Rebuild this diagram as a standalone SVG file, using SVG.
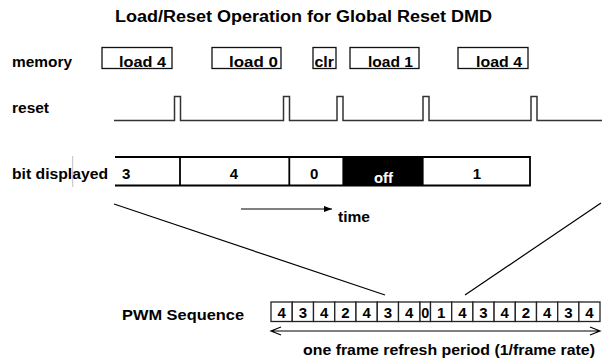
<svg xmlns="http://www.w3.org/2000/svg" width="602" height="360" viewBox="0 0 602 360">
<style>
text{font-family:"Liberation Sans",Arial,sans-serif;font-weight:bold;fill:#000;}
.t13{font-size:15px;}
.box{fill:#fff;stroke:#111;stroke-width:1.3;}
.wave{fill:none;stroke:#333;stroke-width:1.5;}
.bar{fill:none;stroke:#000;stroke-width:1.8;}
.ln{fill:none;stroke:#000;stroke-width:1.2;}
.pbox{fill:#fff;stroke:#222;stroke-width:1.3;}
.mid{text-anchor:middle;}
</style>
<defs>
<marker id="tri" markerWidth="8" markerHeight="6" refX="8" refY="3" orient="auto" markerUnits="userSpaceOnUse">
<path d="M0,0 L8,3 L0,6 Z" fill="#000"/>
</marker>
</defs>
<rect width="602" height="360" fill="#fff"/>
<g id="title">
<text class="t13" x="115" y="22" style="font-size:16px" textLength="377" lengthAdjust="spacingAndGlyphs">Load/Reset Operation for Global Reset DMD</text>
</g>
<g id="memory-row">
<text class="t13" x="12" y="66.5" textLength="60" lengthAdjust="spacingAndGlyphs">memory</text>
<g id="mem-load4a"><rect class="box" x="102" y="47.5" width="70" height="21"/><text class="t13" x="119" y="66.5" textLength="47" lengthAdjust="spacingAndGlyphs">load 4</text></g>
<g id="mem-load0"><rect class="box" x="212" y="47.5" width="69" height="21"/><text class="t13" x="229" y="66.5" textLength="49" lengthAdjust="spacingAndGlyphs">load 0</text></g>
<g id="mem-clr"><rect class="box" x="313" y="47.5" width="23" height="21"/><text class="t13" x="314.5" y="66.5" textLength="19.5" lengthAdjust="spacingAndGlyphs">clr</text></g>
<g id="mem-load1"><rect class="box" x="350" y="47.5" width="69" height="21"/><text class="t13" x="368" y="66.5" textLength="45" lengthAdjust="spacingAndGlyphs">load 1</text></g>
<g id="mem-load4b"><rect class="box" x="458" y="47.5" width="70" height="21"/><text class="t13" x="476" y="66.5" textLength="46" lengthAdjust="spacingAndGlyphs">load 4</text></g>
</g>
<g id="reset-row">
<text class="t13" x="12" y="113" textLength="37" lengthAdjust="spacingAndGlyphs">reset</text>
<path class="wave" d="M114,120.5 H174.5 V96.5 H180.5 V120.5 H283.5 V96.5 H289.5 V120.5 H337 V96.5 H343 V120.5 H423 V96.5 H429 V120.5 H531 V96.5 H537 V120.5 H602"/>
</g>
<g id="bit-row">
<text class="t13" x="12" y="178.5" textLength="96" lengthAdjust="spacingAndGlyphs">bit displayed</text>
<line x1="72.7" y1="156" x2="72.7" y2="187" stroke="#b0b0b0" stroke-width="0.8"/>
<rect x="343.3" y="157" width="79.4" height="28.5" fill="#000"/>
<path class="bar" d="M115,157 H530 V185.5 H115 M180,157 V185.5 M289.3,157 V185.5 M343.3,157 V185.5 M422.7,157 V185.5"/>
<text class="t13" x="122" y="178.5">3</text>
<text class="t13 mid" x="234" y="178.5">4</text>
<text class="t13" x="310" y="178.5">0</text>
<text class="t13" x="374" y="182.5" style="fill:#fff" textLength="19" lengthAdjust="spacingAndGlyphs">off</text>
<text class="t13 mid" x="477" y="178.5">1</text>
</g>
<g id="time-arrow">
<line class="ln" x1="241" y1="209" x2="332" y2="209" marker-end="url(#tri)"/>
<text class="t13" x="338" y="222" textLength="32" lengthAdjust="spacingAndGlyphs">time</text>
</g>
<g id="connectors">
<line class="ln" x1="114" y1="204" x2="385" y2="295"/>
<line class="ln" x1="601" y1="203" x2="465" y2="295"/>
</g>
<g id="pwm-sequence">
<text class="t13" x="122" y="320" textLength="122" lengthAdjust="spacingAndGlyphs">PWM Sequence</text>
<g id="pwm-boxes">
<rect class="pbox" x="271" y="302" width="21.25" height="19.5"/>
<rect class="pbox" x="292.25" y="302" width="21.25" height="19.5"/>
<rect class="pbox" x="313.5" y="302" width="21.25" height="19.5"/>
<rect class="pbox" x="334.75" y="302" width="21.25" height="19.5"/>
<rect class="pbox" x="356" y="302" width="21.25" height="19.5"/>
<rect class="pbox" x="377.25" y="302" width="21.25" height="19.5"/>
<rect class="pbox" x="398.5" y="302" width="21.5" height="19.5"/>
<rect class="pbox" x="420" y="302" width="10.5" height="19.5"/>
<rect class="pbox" x="430.5" y="302" width="21.2" height="19.5"/>
<rect class="pbox" x="451.7" y="302" width="21.2" height="19.5"/>
<rect class="pbox" x="472.9" y="302" width="21.2" height="19.5"/>
<rect class="pbox" x="494.1" y="302" width="21.2" height="19.5"/>
<rect class="pbox" x="515.3" y="302" width="21.2" height="19.5"/>
<rect class="pbox" x="536.5" y="302" width="21.2" height="19.5"/>
<rect class="pbox" x="557.7" y="302" width="21.2" height="19.5"/>
<rect class="pbox" x="578.9" y="302" width="21.1" height="19.5"/>
</g>
<g>
<text class="t13 mid" x="281.6" y="317.5">4</text>
<text class="t13 mid" x="302.9" y="317.5">3</text>
<text class="t13 mid" x="324.1" y="317.5">4</text>
<text class="t13 mid" x="345.4" y="317.5">2</text>
<text class="t13 mid" x="366.6" y="317.5">4</text>
<text class="t13 mid" x="387.9" y="317.5">3</text>
<text class="t13 mid" x="409.2" y="317.5">4</text>
<text class="t13 mid" x="425.3" y="317.5" textLength="8" lengthAdjust="spacingAndGlyphs">0</text>
<text class="t13 mid" x="441.1" y="317.5">1</text>
<text class="t13 mid" x="462.3" y="317.5">4</text>
<text class="t13 mid" x="483.5" y="317.5">3</text>
<text class="t13 mid" x="504.7" y="317.5">4</text>
<text class="t13 mid" x="525.9" y="317.5">2</text>
<text class="t13 mid" x="547.1" y="317.5">4</text>
<text class="t13 mid" x="568.3" y="317.5">3</text>
<text class="t13 mid" x="589.5" y="317.5">4</text>
</g>
</g>
<g id="period-arrow">
<path class="ln" d="M271,331 H600 M281,327 L271,331 L281,335 M590,327 L600,331 L590,335"/>
<text class="t13" x="303" y="355" textLength="292" lengthAdjust="spacingAndGlyphs">one frame refresh period (1/frame rate)</text>
</g>
</svg>
